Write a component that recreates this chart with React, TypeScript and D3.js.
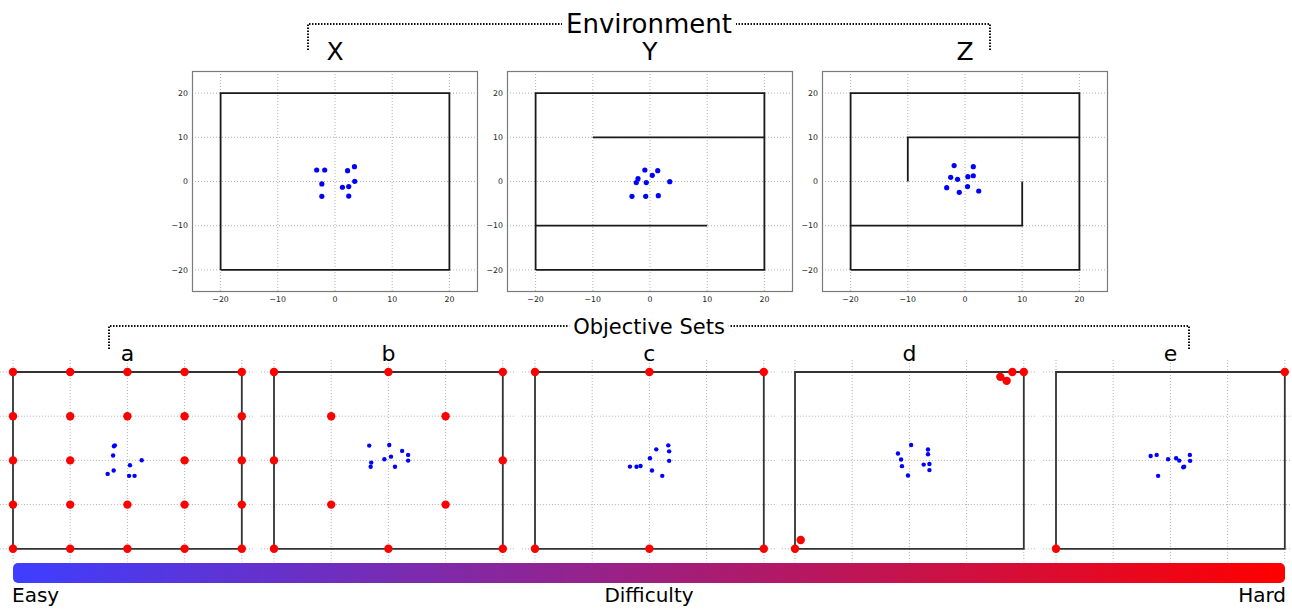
import React, { useEffect, useRef } from "react";
import * as d3 from "d3";

type Pt = [number, number];

// agent start positions, one cloud per panel
const agentsX: Pt[] = [[-3.2, 2.6], [-1.8, 2.6], [2.2, 2.45], [3.4, 3.35], [-2.3, -0.55], [3.45, 0.05], [1.3, -1.3], [2.4, -1.15], [-2.3, -3.35], [2.4, -3.3]];
const agentsY: Pt[] = [[-0.9, 2.6], [1.35, 2.45], [0.4, 1.4], [-2.1, 0.65], [-2.4, -0.25], [-0.65, -0.25], [3.45, -0.05], [-3.15, -3.35], [-0.75, -3.35], [1.45, -3.2]];
const agentsZ: Pt[] = [[-1.9, 3.6], [1.45, 3.35], [-2.5, 0.95], [-1.3, 0.5], [0.5, 1.1], [1.45, 1.3], [-3.2, -1.4], [0.45, -1.15], [-1.0, -2.45], [2.4, -2.15]];

const agentsA: Pt[] = [[-2.2, 3.4], [-2.35, 3.2], [-2.5, 1.1], [0.45, -1.1], [2.5, 0.05], [-2.4, -2.3], [-3.45, -3.05], [0.3, -3.5], [1.25, -3.5]];
const agentsB: Pt[] = [[-3.35, 3.35], [0.15, 3.5], [2.4, 2.15], [3.45, 1.25], [3.45, -0.05], [0.45, 0.85], [-0.7, 0.25], [-3.0, -0.5], [-3.1, -1.45], [1.15, -1.45]];
const agentsC: Pt[] = [[3.3, 3.4], [1.2, 2.5], [3.45, 2.05], [0.1, 0.5], [3.45, -0.1], [-3.4, -1.4], [-2.25, -1.45], [-1.55, -1.25], [0.45, -2.3], [2.25, -3.5]];
const agentsD: Pt[] = [[0.3, 3.5], [-2.0, 1.55], [3.25, 2.45], [3.25, 1.4], [-1.45, 0.2], [-1.3, -1.3], [2.5, -0.95], [3.5, -0.8], [3.5, -2.2], [-0.25, -3.4]];
const agentsE: Pt[] = [[-3.45, 1.0], [-2.4, 1.25], [-0.4, 0.25], [1.0, 0.5], [1.55, -0.05], [3.4, 1.25], [3.45, -0.1], [2.4, -1.45], [2.25, -1.55], [-2.15, -3.5]];

// objective sets
const objA: Pt[] = [
  [-20, 20], [-10, 20], [0, 20], [10, 20], [20, 20],
  [-20, 10], [-10, 10], [0, 10], [10, 10], [20, 10],
  [-20, 0], [-10, 0], [10, 0], [20, 0],
  [-20, -10], [-10, -10], [0, -10], [10, -10], [20, -10],
  [-20, -20], [-10, -20], [0, -20], [10, -20], [20, -20],
];
const objB: Pt[] = [[-20, 20], [0, 20], [20, 20], [-10, 10], [10, 10], [-20, 0], [20, 0], [-10, -10], [10, -10], [-20, -20], [0, -20], [20, -20]];
const objC: Pt[] = [[-20, 20], [0, 20], [20, 20], [-20, -20], [0, -20], [20, -20]];
const objD: Pt[] = [[20, 20], [18, 20], [15.9, 18.9], [17, 18], [-20, -20], [-19, -18]];
const objE: Pt[] = [[20, 20], [-20, -20]];

// walls
const outerWall: Pt[] = [[-20, -20], [-20, 20], [20, 20], [20, -20], [-20, -20]];
const wallsX: Pt[][] = [outerWall];
const wallsY: Pt[][] = [outerWall, [[-10, 10], [20, 10]], [[-20, -10], [10, -10]]];
const wallsZ: Pt[][] = [outerWall, [[-10, 0], [-10, 10], [20, 10]], [[-20, -10], [10, -10], [10, 0]]];

const envNames = ["X", "Y", "Z"];
const setNames = ["a", "b", "c", "d", "e"];
const ticks = [-20, -10, 0, 10, 20];

const FONT = "DejaVu Sans, sans-serif";

export default function App() {
  const ref = useRef<SVGSVGElement>(null);

  useEffect(() => {
    const width = 1292;
    const height = 609;
    const svg = d3.select(ref.current).attr("width", width).attr("height", height);
    svg.selectAll("*").remove();

    const pw = 286;
    const ph = 221;
    const x = d3.scaleLinear().domain([-25, 25]).range([0, pw]);
    const y = d3.scaleLinear().domain([-25, 25]).range([ph, 0]);
    const line = d3
      .line<Pt>()
      .x((d) => x(d[0]))
      .y((d) => y(d[1]));
    const fmt = (d: number) => String(d).replace("-", "\u2212");

    const defs = svg.append("defs");
    const grad = defs.append("linearGradient").attr("id", "diff").attr("x1", "0%").attr("x2", "100%");
    grad.append("stop").attr("offset", "0%").attr("stop-color", "#3e3eff");
    grad.append("stop").attr("offset", "100%").attr("stop-color", "#ff0000");

    // dotted grid, limited to the visible part of the panel
    const grid = (g: any, x0: number, x1: number, y0: number, y1: number) => {
      g.selectAll(".vg")
        .data(ticks)
        .join("line")
        .attr("class", "vg")
        .attr("x1", (d: number) => x(d))
        .attr("x2", (d: number) => x(d))
        .attr("y1", y(y1))
        .attr("y2", y(y0))
        .attr("stroke", "#b0b0b0")
        .attr("stroke-dasharray", "1,2");
      g.selectAll(".hg")
        .data(ticks)
        .join("line")
        .attr("class", "hg")
        .attr("x1", x(x0))
        .attr("x2", x(x1))
        .attr("y1", (d: number) => y(d))
        .attr("y2", (d: number) => y(d))
        .attr("stroke", "#b0b0b0")
        .attr("stroke-dasharray", "1,2");
    };

    // environment panels
    const envAgents = [agentsX, agentsY, agentsZ];
    const envWalls = [wallsX, wallsY, wallsZ];
    const envLeft = [192, 507, 822];
    envLeft.forEach((left, i) => {
      const g = svg.append("g").attr("transform", `translate(${left},71)`);
      grid(g, -25, 25, -25, 25);
      g.selectAll(".wall")
        .data(envWalls[i])
        .join("path")
        .attr("class", "wall")
        .attr("d", (d) => line(d))
        .attr("fill", "none")
        .attr("stroke", "#1a1a1a")
        .attr("stroke-width", 1.8);
      g.selectAll(".agent")
        .data(envAgents[i])
        .join("circle")
        .attr("class", "agent")
        .attr("cx", (d) => x(d[0]))
        .attr("cy", (d) => y(d[1]))
        .attr("r", 2.6)
        .attr("fill", "#0000ff");
      g.append("rect")
        .attr("x", 0.5)
        .attr("y", 0.5)
        .attr("width", pw - 1)
        .attr("height", ph - 1)
        .attr("fill", "none")
        .attr("stroke", "#7a7a7a")
        .attr("stroke-width", 1.2);
      g.selectAll(".xt")
        .data(ticks)
        .join("text")
        .attr("class", "xt")
        .attr("x", (d) => x(d))
        .attr("y", ph + 10)
        .attr("text-anchor", "middle")
        .attr("font-family", FONT)
        .attr("font-size", 7.8)
        .attr("fill", "#222")
        .text(fmt);
      g.selectAll(".yt")
        .data(ticks)
        .join("text")
        .attr("class", "yt")
        .attr("x", -4)
        .attr("y", (d) => y(d) + 2.7)
        .attr("text-anchor", "end")
        .attr("font-family", FONT)
        .attr("font-size", 7.8)
        .attr("fill", "#222")
        .text(fmt);
      svg.append("text")
        .attr("x", left + pw / 2)
        .attr("y", 60)
        .attr("text-anchor", "middle")
        .attr("font-family", FONT)
        .attr("font-size", 25)
        .text(envNames[i]);
    });

    // objective set panels (no frame, cropped)
    const setAgents = [agentsA, agentsB, agentsC, agentsD, agentsE];
    const setObj = [objA, objB, objC, objD, objE];
    const setX20 = [13, 274, 535, 795, 1056];
    setX20.forEach((x20, i) => {
      const g = svg.append("g").attr("transform", `translate(${x20 - x(-20)},${372 - y(20)})`);
      grid(g, -22.3, 22.3, -22.9, 22.7);
      g.append("path")
        .attr("d", line(outerWall))
        .attr("fill", "none")
        .attr("stroke", "#333")
        .attr("stroke-width", 1.8);
      g.selectAll(".obj")
        .data(setObj[i])
        .join("circle")
        .attr("class", "obj")
        .attr("cx", (d) => x(d[0]))
        .attr("cy", (d) => y(d[1]))
        .attr("r", 4.2)
        .attr("fill", "#ff0000");
      g.selectAll(".agent")
        .data(setAgents[i])
        .join("circle")
        .attr("class", "agent")
        .attr("cx", (d) => x(d[0]))
        .attr("cy", (d) => y(d[1]))
        .attr("r", 2.2)
        .attr("fill", "#0000ff");
      svg.append("text")
        .attr("x", x20 + (x(20) - x(-20)) / 2)
        .attr("y", 361)
        .attr("text-anchor", "middle")
        .attr("font-family", FONT)
        .attr("font-size", 22)
        .text(setNames[i]);
    });

    // dotted brackets with their titles
    const bracket = (x0: number, x1: number, yb: number, y2: number, label: string, fs: number, gap: number) => {
      const cx = (x0 + x1) / 2;
      const t = svg.append("text")
        .attr("x", cx)
        .attr("y", yb + fs * 0.36)
        .attr("text-anchor", "middle")
        .attr("font-family", FONT)
        .attr("font-size", fs)
        .text(label);
      const tw = (t.node() as SVGTextElement).getComputedTextLength();
      [
        `M${x0},${y2}V${yb}H${cx - tw / 2 - gap}`,
        `M${x1},${y2}V${yb}H${cx + tw / 2 + gap}`,
      ].forEach((d) =>
        svg.append("path")
          .attr("d", d)
          .attr("fill", "none")
          .attr("stroke", "#111")
          .attr("stroke-width", 2)
          .attr("stroke-dasharray", "1.5,1.5")
      );
    };
    bracket(308, 990, 24, 50, "Environment", 26, 4);
    bracket(109, 1189, 326, 349, "Objective Sets", 21, 4);

    // difficulty bar
    svg.append("rect")
      .attr("x", 13)
      .attr("y", 563)
      .attr("width", 1272)
      .attr("height", 20)
      .attr("rx", 5)
      .attr("fill", "url(#diff)");
    const labels = [
      { t: "Easy", x: 12, a: "start" },
      { t: "Difficulty", x: 649, a: "middle" },
      { t: "Hard", x: 1286, a: "end" },
    ];
    svg.selectAll(".dl")
      .data(labels)
      .join("text")
      .attr("class", "dl")
      .attr("x", (d) => d.x)
      .attr("y", 602)
      .attr("text-anchor", (d) => d.a)
      .attr("font-family", FONT)
      .attr("font-size", 20)
      .text((d) => d.t);
  }, []);

  return <svg ref={ref} style={{ position: "absolute", left: 0, top: 0, background: "#fff" }} />;
}
